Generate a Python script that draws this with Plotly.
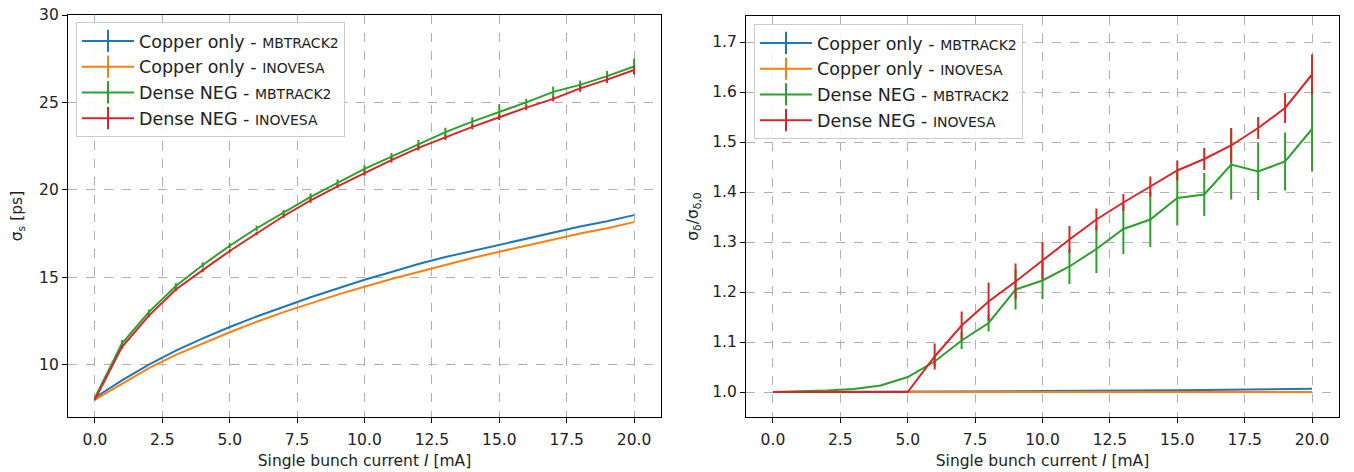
import plotly.graph_objects as go

current = list(range(0, 21))

# Left panel: bunch length sigma_s [ps]
sig_s_cu_mb = [8.1, 9.1, 10.0, 10.8, 11.5, 12.15, 12.75, 13.3, 13.85, 14.35, 14.85,
               15.3, 15.75, 16.15, 16.5, 16.85, 17.2, 17.55, 17.9, 18.2, 18.55]
sig_s_cu_in = [8.0, 8.9, 9.8, 10.55, 11.2, 11.85, 12.45, 13.0, 13.5, 14.0, 14.45,
               14.9, 15.3, 15.7, 16.1, 16.45, 16.8, 17.15, 17.5, 17.8, 18.15]
sig_s_neg_mb = [8.1, 11.2, 13.0, 14.5, 15.7, 16.8, 17.8, 18.7, 19.6, 20.4, 21.2,
                21.9, 22.6, 23.3, 23.9, 24.45, 25.0, 25.6, 26.0, 26.5, 27.05]
sig_s_neg_in = [8.0, 11.0, 12.8, 14.3, 15.4, 16.5, 17.5, 18.5, 19.4, 20.2, 20.95,
                21.7, 22.4, 23.0, 23.6, 24.15, 24.7, 25.2, 25.8, 26.3, 26.85]
err_s_cu_mb = [0.0] * 21
err_s_cu_in = [0.0] * 21
err_s_neg_mb = [0.1, 0.2, 0.15, 0.15, 0.15, 0.15, 0.15, 0.15, 0.2, 0.2, 0.2,
                0.2, 0.25, 0.25, 0.25, 0.45, 0.2, 0.3, 0.25, 0.3, 0.45]
err_s_neg_in = [0.05, 0.1, 0.1, 0.1, 0.1, 0.1, 0.1, 0.1, 0.15, 0.1, 0.15,
                0.15, 0.15, 0.15, 0.15, 0.15, 0.15, 0.15, 0.2, 0.2, 0.25]

# Right panel: relative energy spread sigma_delta / sigma_delta,0
sig_d_cu_mb = [1.0, 1.0, 1.0, 1.0, 1.0, 1.0, 1.0005, 1.001, 1.001, 1.0015, 1.002,
               1.002, 1.0025, 1.003, 1.003, 1.0035, 1.004, 1.0045, 1.005, 1.0055, 1.0065]
sig_d_cu_in = [1.0] * 21
sig_d_neg_mb = [1.0, 1.001, 1.003, 1.006, 1.013, 1.030, 1.061, 1.103, 1.138, 1.205, 1.223,
                1.251, 1.286, 1.326, 1.345, 1.388, 1.395, 1.455, 1.441, 1.461, 1.526]
sig_d_neg_in = [1.0, 1.0, 1.0, 1.0, 1.0, 1.0, 1.071, 1.133, 1.181, 1.221, 1.263,
                1.305, 1.345, 1.379, 1.411, 1.443, 1.466, 1.493, 1.528, 1.568, 1.635]
err_d_cu_mb = [0.0] * 21
err_d_cu_in = [0.0] * 21
err_d_neg_mb = [0.0, 0.0, 0.0, 0.0, 0.0, 0.0, 0.01, 0.017, 0.017, 0.04, 0.037,
                0.035, 0.048, 0.05, 0.055, 0.055, 0.043, 0.07, 0.057, 0.058, 0.085]
err_d_neg_in = [0.0, 0.0, 0.0, 0.0, 0.0, 0.0, 0.026, 0.028, 0.038, 0.036, 0.037,
                0.027, 0.022, 0.017, 0.02, 0.02, 0.022, 0.035, 0.022, 0.03, 0.04]

colors = ["#1f77b4", "#ff7f0e", "#2ca02c", "#d62728"]
SMALL = "<span style='font-size:14px'>{}</span>"
names = ["Copper only - " + SMALL.format("MBTRACK2"),
         "Copper only - " + SMALL.format("INOVESA"),
         "Dense NEG - " + SMALL.format("MBTRACK2"),
         "Dense NEG - " + SMALL.format("INOVESA")]

left_series = [(sig_s_cu_mb, err_s_cu_mb), (sig_s_cu_in, err_s_cu_in),
               (sig_s_neg_mb, err_s_neg_mb), (sig_s_neg_in, err_s_neg_in)]
right_series = [(sig_d_cu_mb, err_d_cu_mb), (sig_d_cu_in, err_d_cu_in),
                (sig_d_neg_mb, err_d_neg_mb), (sig_d_neg_in, err_d_neg_in)]

fig = go.Figure()

for panel, series, xa, ya, leg in [(0, left_series, "x", "y", "legend"),
                                   (1, right_series, "x2", "y2", "legend2")]:
    for i, (vals, errs) in enumerate(series):
        fig.add_trace(go.Scatter(
            x=current, y=vals, mode="lines", xaxis=xa, yaxis=ya,
            line=dict(color=colors[i], width=2),
            error_y=dict(type="data", array=errs, visible=True, color=colors[i],
                         thickness=2, width=0),
            showlegend=False, hoverinfo="skip"))
    for i in range(4):
        fig.add_trace(go.Scatter(
            x=[None], y=[None], mode="lines+markers", xaxis=xa, yaxis=ya,
            name=names[i], legend=leg, legendgroup=f"{panel}_{i}",
            line=dict(color=colors[i], width=2),
            marker=dict(symbol="line-ns-open", size=16, color=colors[i],
                        line=dict(width=2, color=colors[i]))))

W, H = 1354, 472
def px_x(p):
    return p / W
def px_y(p):
    return 1 - p / H

FONT = "DejaVu Sans"
axis_common = dict(
    showline=True, linecolor="black", linewidth=1.2, mirror=True,
    ticks="outside", ticklen=5, tickwidth=1, tickcolor="black",
    showgrid=True, gridcolor="#b0b0b0", griddash="dash", gridwidth=1,
    zeroline=False, automargin=False, ticklabeloverflow="allow",
    tickfont=dict(family=FONT, size=15.5, color="#222222"),
)
xtitle = dict(text="Single bunch current <i>I</i> [mA]",
              font=dict(family=FONT, size=15.5, color="#222222"), standoff=7)

fig.update_layout(
    width=W, height=H,
    margin=dict(l=0, r=0, t=0, b=0),
    paper_bgcolor="white", plot_bgcolor="white",
    font=dict(family=FONT, color="#222222"),
    xaxis=dict(domain=[px_x(68), px_x(661)], range=[-1, 21], tick0=0, dtick=2.5,
               tickformat=".1f", title=xtitle, anchor="y", ticklabelstandoff=3,
               **axis_common),
    yaxis=dict(domain=[px_y(417), px_y(15)], range=[7.0, 30], tick0=0, dtick=5,
               title=dict(text="σ<sub>s</sub> [ps]",
                          font=dict(family=FONT, size=15.5, color="#222222"),
                          standoff=12),
               anchor="x", **axis_common),
    xaxis2=dict(domain=[px_x(746), px_x(1339)], range=[-1, 21], tick0=0, dtick=2.5,
                tickformat=".1f", title=xtitle, anchor="y2", ticklabelstandoff=3,
                **axis_common),
    yaxis2=dict(domain=[px_y(417), px_y(16)], range=[0.95, 1.752], tick0=0, dtick=0.1,
                tickformat=".1f",
                title=dict(text="σ<sub>δ</sub>/σ<sub>δ,0</sub>",
                           font=dict(family=FONT, size=15.5, color="#222222"),
                           standoff=9),
                anchor="x2", **axis_common),
    legend=dict(x=px_x(76), y=px_y(22), xanchor="left", yanchor="top",
                bgcolor="rgba(255,255,255,0.85)", bordercolor="#cccccc", borderwidth=1,
                font=dict(family=FONT, size=17.5, color="#222222"),
                tracegroupgap=0, itemwidth=52),
    legend2=dict(x=px_x(754), y=px_y(24), xanchor="left", yanchor="top",
                 bgcolor="rgba(255,255,255,0.85)", bordercolor="#cccccc", borderwidth=1,
                 font=dict(family=FONT, size=17.5, color="#222222"),
                 tracegroupgap=0, itemwidth=52),
)

fig.write_html("out.html", config={"displayModeBar": False},
               post_script="document.body.style.margin='0px';document.body.style.overflow='hidden';")
